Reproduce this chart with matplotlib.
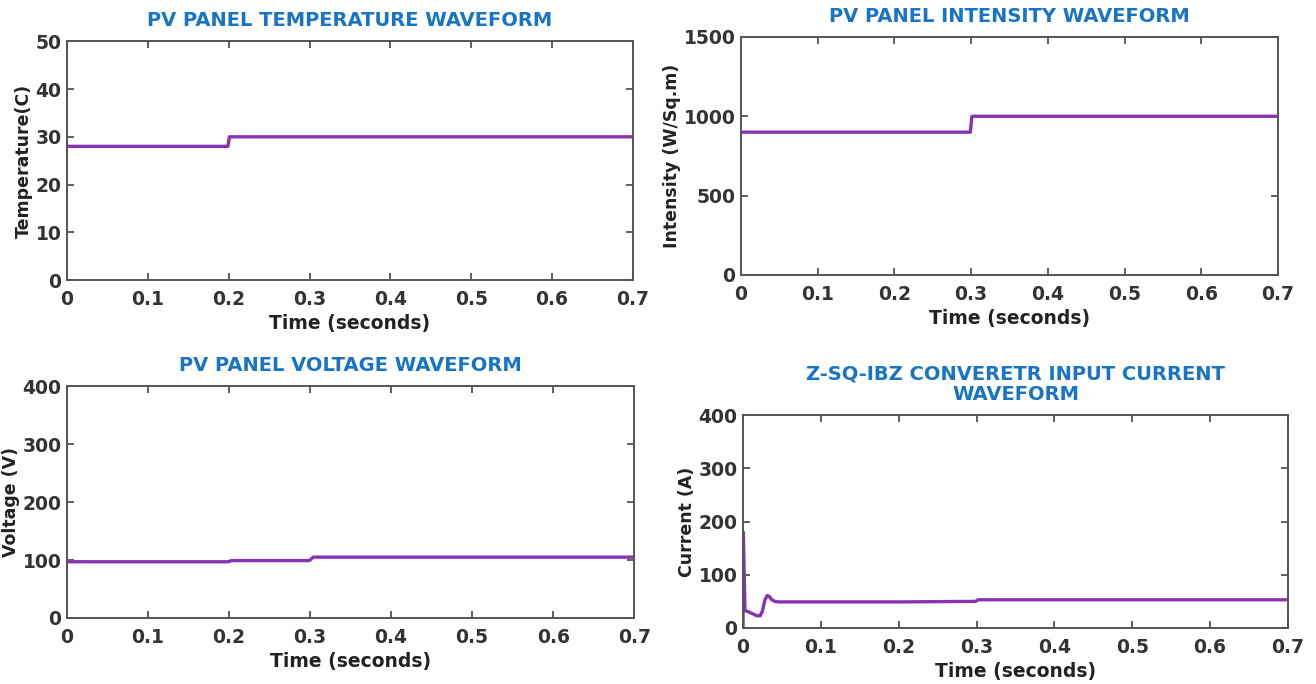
import matplotlib.pyplot as plt
plt.switch_backend('agg')

# time axis / data
temp_t = [0, 0.199, 0.201, 0.7]
temp_v = [28, 28, 30, 30]

int_t = [0, 0.299, 0.301, 0.7]
int_v = [900, 900, 1000, 1000]

volt_t = [0, 0.199, 0.203, 0.299, 0.304, 0.7]
volt_v = [97, 97, 99, 99, 105, 105]

cur_t = [0, 0.0004, 0.0025, 0.006, 0.012, 0.018, 0.022, 0.025, 0.028, 0.031, 0.034,
         0.037, 0.041, 0.046, 0.2, 0.299, 0.302, 0.7]
cur_v = [0, 180, 33, 31, 27, 23, 23, 32, 52, 61, 59, 53, 50, 49, 49, 50, 53, 53]

titles = ['PV PANEL TEMPERATURE WAVEFORM', 'PV PANEL INTENSITY WAVEFORM',
          'PV PANEL VOLTAGE WAVEFORM', 'Z-SQ-IBZ CONVERETR INPUT CURRENT\nWAVEFORM']
ylabels = ['Temperature(C)', 'Intensity (W/Sq.m)', 'Voltage (V)', 'Current (A)']
ylims = [(0, 50), (0, 1500), (0, 400), (0, 400)]
yticks = [range(0, 51, 10), range(0, 1501, 500), range(0, 401, 100), range(0, 401, 100)]
xticks = [0, 0.1, 0.2, 0.3, 0.4, 0.5, 0.6, 0.7]

line_col = '#8833B4'
title_col = '#1874C4'

fig = plt.figure(figsize=(13.16, 6.84), dpi=100)
boxes = [[0.0509, 0.5906, 0.430, 0.349],
         [0.5631, 0.5980, 0.408, 0.348],
         [0.0509, 0.0965, 0.431, 0.339],
         [0.5646, 0.0819, 0.414, 0.311]]
series = [(temp_t, temp_v), (int_t, int_v), (volt_t, volt_v), (cur_t, cur_v)]

for i in range(4):
    ax = fig.add_axes(boxes[i])
    t, v = series[i]
    ax.plot(t, v, color=line_col, linewidth=2.4)
    ax.set_xlim(0, 0.7)
    ax.set_ylim(*ylims[i])
    ax.set_xticks(xticks)
    ax.set_xticklabels(['0', '0.1', '0.2', '0.3', '0.4', '0.5', '0.6', '0.7'])
    ax.set_yticks(list(yticks[i]))
    ax.tick_params(direction='in', top=True, right=True, length=5, width=1.2,
                   colors='#444444', labelsize=13.5, labelcolor='#333333')
    ax.tick_params(axis='x', pad=7)
    ax.tick_params(axis='y', pad=4)
    for lab in ax.get_xticklabels() + ax.get_yticklabels():
        lab.set_fontweight('bold')
    for s in ax.spines.values():
        s.set_color('#555555')
        s.set_linewidth(1.4)
    ax.set_xlabel('Time (seconds)', fontsize=13.5, fontweight='bold', color='#222222', labelpad=4)
    ax.set_ylabel(ylabels[i], fontsize=12.5, fontweight='bold', color='#222222', labelpad=2)
    ax.set_title(titles[i], fontsize=14, fontweight='bold', color=title_col, pad=11,
                 linespacing=1.1)

plt.savefig('out.png', dpi=100)
